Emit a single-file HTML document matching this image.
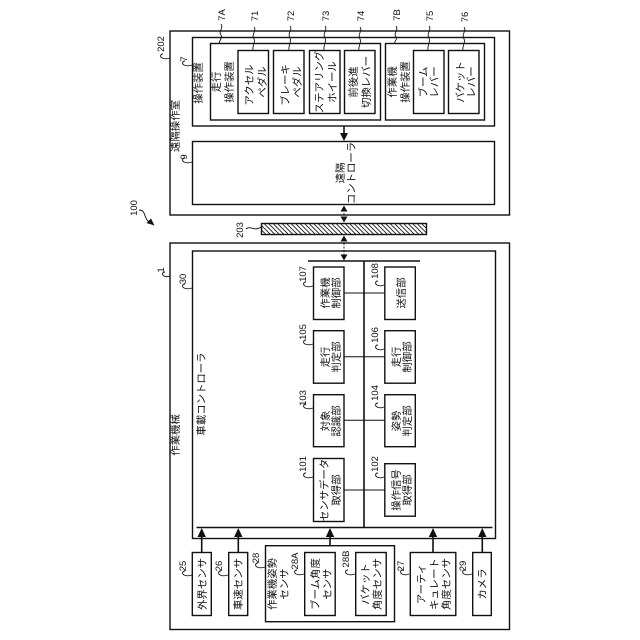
<!DOCTYPE html>
<html><head><meta charset="utf-8"><style>
html,body{margin:0;padding:0;background:#fff}
svg{display:block}
rect{fill:#fff;stroke:#111;stroke-width:1.4}
line,path{stroke:#111;fill:none}
text{font-family:"Liberation Sans","Noto Sans CJK JP",sans-serif;font-size:10.4px;fill:#111;text-anchor:middle}
text.n{font-size:9.5px}
.s{stroke-width:.9}
.b{stroke-width:1.6}
.h{fill:#111;stroke:none}
</style></head><body>
<svg width="640" height="640" viewBox="0 0 640 640" xmlns="http://www.w3.org/2000/svg">
<defs><pattern id="ht" width="4.5" height="4.5" patternUnits="userSpaceOnUse"><path d="M-1 -1L5.500 5.500M-1 3.500L1 5.500M3.500 -1L5.500 1" stroke="#222" stroke-width=".8"/></pattern></defs>

<rect x="170" y="31" width="339.500" height="184"/>
<rect x="192.500" y="37.500" width="302" height="88.500"/>
<rect x="210.500" y="43.500" width="170" height="76.500"/>
<rect x="238" y="50.500" width="30.500" height="63"/>
<rect x="273.500" y="50.500" width="30.500" height="63"/>
<rect x="309.500" y="50.500" width="30.500" height="63"/>
<rect x="344.500" y="50.500" width="30.500" height="63"/>
<rect x="385.500" y="43.500" width="99" height="76.500"/>
<rect x="413.500" y="50.500" width="30.500" height="63"/>
<rect x="448.500" y="50.500" width="30.500" height="63"/>
<rect x="192.500" y="141.500" width="302" height="63"/>

<rect x="261.500" y="223.500" width="165" height="11" style="fill:url(#ht)"/>

<rect x="170" y="243" width="339.500" height="386.500"/>
<rect x="192.500" y="251" width="303" height="287.500"/>

<line x1="196.500" y1="527.500" x2="492.500" y2="527.500" class="b"/>
<line x1="308" y1="261" x2="420" y2="261" class="b"/>
<line x1="364" y1="261" x2="364" y2="527.500" class="b"/>
<line x1="344" y1="293" x2="385" y2="293"/>
<line x1="344" y1="356.700" x2="385" y2="356.700"/>
<line x1="344" y1="420.300" x2="385" y2="420.300"/>
<line x1="344" y1="490" x2="385" y2="490"/>

<rect x="313.500" y="267" width="30.500" height="52.500"/>
<rect x="384.800" y="267" width="30.500" height="52.500"/>
<rect x="313.500" y="330.700" width="30.500" height="52.500"/>
<rect x="384.800" y="330.700" width="30.500" height="52.500"/>
<rect x="313.500" y="394.700" width="30.500" height="52"/>
<rect x="384.800" y="394.700" width="30.500" height="52"/>
<rect x="313.500" y="458.500" width="30.500" height="63"/>
<rect x="384.800" y="463.700" width="30.500" height="52.500"/>

<rect x="192.300" y="552.500" width="19" height="63"/>
<rect x="228.700" y="552.500" width="19" height="63"/>
<rect x="265.500" y="545.700" width="129" height="76"/>
<rect x="304.700" y="552.500" width="30.500" height="63"/>
<rect x="355.700" y="552.500" width="30.500" height="63"/>
<rect x="410.300" y="552.500" width="45.500" height="63"/>
<rect x="472.700" y="552.500" width="18.600" height="63"/>

<!-- arrows -->
<line x1="344" y1="126" x2="344" y2="134" class="b"/><path class="h" d="M344 141L340 133H348Z"/>
<line x1="344" y1="206" x2="344" y2="222" stroke-dasharray="2 1.500" class="s"/>
<path class="h" d="M344 205.500L340.500 211.500H347.500Z"/><path class="h" d="M344 222.500L340.500 216.500H347.500Z"/>
<line x1="344" y1="236" x2="344" y2="261" stroke-dasharray="2 1.500" class="s"/>
<path class="h" d="M344 235.500L340.500 241.500H347.500Z"/><path class="h" d="M344 260.500L340.500 254.500H347.500Z"/>

<line x1="201.700" y1="535" x2="201.700" y2="552.500" class="b"/><path class="h" d="M201.700 528L197.500 537H205.900Z"/>
<line x1="238.300" y1="535" x2="238.300" y2="552.500" class="b"/><path class="h" d="M238.300 528L234.100 537H242.500Z"/>
<line x1="330" y1="535" x2="330" y2="545.700" class="b"/><path class="h" d="M330 528L325.800 537H334.200Z"/>
<line x1="433" y1="535" x2="433" y2="552.500" class="b"/><path class="h" d="M433 528L428.800 537H437.200Z"/>
<line x1="482.300" y1="535" x2="482.300" y2="552.500" class="b"/><path class="h" d="M482.300 528L478.100 537H486.500Z"/>

<!-- 100 -->
<path class="s" d="M139 210c6 0 5 5 7 8c1 3 3 4 5 5"/><path class="h" d="M154.500 225.500L146.500 223L151 218.500Z"/>
<path class="s" d="M246 229c5-4 8 3 15-2"/>

<!-- squiggles -->
<path class="s" d="M221 24c3 4-3 7 0 11c2 3-2 5-2 9M254 27c3 4-3 7 0 12c2 3-2 7-1 11M290 26c3 4-3 7 0 12c2 3-2 8-1 12M325 26c3 4-3 7 0 12c2 3-2 8-1 12M360 27c3 4-3 7 0 12c2 3-2 7-1 11M396 26c3 4-3 7 0 11c2 3-2 3-1 6M429 26c3 4-3 7 0 12c2 3-2 8-1 12M464 27c3 4-3 7 0 12c2 3-2 7-1 11"/>
<path class="s" d="M163 54c-3 0-3 3-1 4c2 1 5 1 8 0M185 61c-3 0-3 3-1 4c2 1 5 1 8 0M185 158c-3 0-3 3-1 4c2 1 5 1 8 0M165 272c-3 0-3 3-1 4c2 1 3 1 6 0M185 284c-3 0-3 3-1 4c2 1 5 1 8 0"/>
<path class="s" d="M306 282c-3 0-3 3-1 4c2 1 5 1 8 0M378 281c-3 0-3 3-1 4c2 1 5 1 7 0M306 340c-3 0-3 3-1 4c2 1 5 1 8 0M378 345c-3 0-3 3-1 4c2 1 5 1 7 0M306 404c-3 0-3 3-1 4c2 1 5 1 8 0M378 403c-3 0-3 3-1 4c2 1 5 1 7 0M306 473c-3 0-3 3-1 4c2 1 5 1 8 0M378 473c-3 0-3 3-1 4c2 1 5 1 7 0"/>
<path class="s" d="M185 571c-3 0-3 3-1 4c2 1 5 1 8 0M221 571c-3 0-3 3-1 4c2 1 5 1 8 0M258 563c-3 0-3 3-1 4c2 1 5 1 8 0M297 570c-3 0-3 3-1 4c2 1 5 1 8 0M348 570c-3 0-3 3-1 4c2 1 5 1 8 0M403 570c-3 0-3 3-1 4c2 1 5 1 7 0M465 570c-3 0-3 3-1 4c2 1 5 1 8 0"/>

<!-- number labels -->
<text class="n" transform="translate(225,15) rotate(-90)">7A</text>
<text class="n" transform="translate(258,16) rotate(-90)">71</text>
<text class="n" transform="translate(294,16) rotate(-90)">72</text>
<text class="n" transform="translate(329,16) rotate(-90)">73</text>
<text class="n" transform="translate(364,16) rotate(-90)">74</text>
<text class="n" transform="translate(400,15) rotate(-90)">7B</text>
<text class="n" transform="translate(433,16) rotate(-90)">75</text>
<text class="n" transform="translate(468,17) rotate(-90)">76</text>
<text class="n" transform="translate(164,44) rotate(-90)">202</text>
<text class="n" transform="translate(187,59) rotate(-90)">7</text>
<text class="n" transform="translate(187,157) rotate(-90)">9</text>
<text class="n" transform="translate(243,230) rotate(-90)">203</text>
<text class="n" transform="translate(137,208) rotate(-90)">100</text>
<text class="n" transform="translate(164,270) rotate(-90)">1</text>
<text class="n" transform="translate(186,279) rotate(-90)">30</text>
<text class="n" transform="translate(306,274) rotate(-90)">107</text>
<text class="n" transform="translate(378,271) rotate(-90)">108</text>
<text class="n" transform="translate(306,332) rotate(-90)">105</text>
<text class="n" transform="translate(378,335) rotate(-90)">106</text>
<text class="n" transform="translate(306,398) rotate(-90)">103</text>
<text class="n" transform="translate(378,393) rotate(-90)">104</text>
<text class="n" transform="translate(306,464) rotate(-90)">101</text>
<text class="n" transform="translate(378,464) rotate(-90)">102</text>
<text class="n" transform="translate(186,566) rotate(-90)">25</text>
<text class="n" transform="translate(222,566) rotate(-90)">26</text>
<text class="n" transform="translate(259,558) rotate(-90)">28</text>
<text class="n" transform="translate(298,561) rotate(-90)">28A</text>
<text class="n" transform="translate(349,559) rotate(-90)">28B</text>
<text class="n" transform="translate(404,566) rotate(-90)">27</text>
<text class="n" transform="translate(466,566) rotate(-90)">29</text>

<!-- box text -->
<text transform="translate(179,126) rotate(-90)">遠隔操作室</text>
<text transform="translate(202,83) rotate(-90)">操作装置</text>
<text transform="translate(220,82) rotate(-90)">走行</text>
<text transform="translate(233,82) rotate(-90)">操作装置</text>
<text transform="translate(253,85) rotate(-90)">アクセル</text>
<text transform="translate(266,82) rotate(-90)">ペダル</text>
<text transform="translate(289,85) rotate(-90)">ブレーキ</text>
<text transform="translate(301,82) rotate(-90)">ペダル</text>
<text transform="translate(323,82) rotate(-90)">ステアリング</text>
<text transform="translate(336,82) rotate(-90)">ホイール</text>
<text transform="translate(357,82) rotate(-90)">前後進</text>
<text transform="translate(370,82) rotate(-90)">切換レバー</text>
<text transform="translate(396,82) rotate(-90)">作業機</text>
<text transform="translate(409,82) rotate(-90)">操作装置</text>
<text transform="translate(427,82) rotate(-90)">ブーム</text>
<text transform="translate(438,82) rotate(-90)">レバー</text>
<text transform="translate(464,82) rotate(-90)">バケット</text>
<text transform="translate(475,82) rotate(-90)">レバー</text>
<text transform="translate(344,173) rotate(-90)">遠隔</text>
<text transform="translate(355,173) rotate(-90)">コントローラ</text>

<text transform="translate(179,435) rotate(-90)">作業機械</text>
<text transform="translate(205,394) rotate(-90)">車載コントローラ</text>

<text transform="translate(329,293) rotate(-90)">作業機</text>
<text transform="translate(340,293) rotate(-90)">制御部</text>
<text transform="translate(405,293) rotate(-90)">送信部</text>
<text transform="translate(329,357) rotate(-90)">走行</text>
<text transform="translate(340,357) rotate(-90)">判定部</text>
<text transform="translate(400,357) rotate(-90)">走行</text>
<text transform="translate(411,357) rotate(-90)">制御部</text>
<text transform="translate(329,421) rotate(-90)">対象</text>
<text transform="translate(340,421) rotate(-90)">認識部</text>
<text transform="translate(400,421) rotate(-90)">姿勢</text>
<text transform="translate(411,421) rotate(-90)">判定部</text>
<text transform="translate(328,490) rotate(-90)">センサデータ</text>
<text transform="translate(340,490) rotate(-90)">取得部</text>
<text transform="translate(400,490) rotate(-90)">操作信号</text>
<text transform="translate(411,490) rotate(-90)">取得部</text>

<text transform="translate(206,584) rotate(-90)">外界センサ</text>
<text transform="translate(242,584) rotate(-90)">車速センサ</text>
<text transform="translate(276,584) rotate(-90)">作業機姿勢</text>
<text transform="translate(288,584) rotate(-90)">センサ</text>
<text transform="translate(319,584) rotate(-90)">ブーム角度</text>
<text transform="translate(331,584) rotate(-90)">センサ</text>
<text transform="translate(369,584) rotate(-90)">バケット</text>
<text transform="translate(381,584) rotate(-90)">角度センサ</text>
<text transform="translate(425,584) rotate(-90)">アーティ</text>
<text transform="translate(438,584) rotate(-90)">キュレート</text>
<text transform="translate(450,584) rotate(-90)">角度センサ</text>
<text transform="translate(486,584) rotate(-90)">カメラ</text>
</svg>
</body></html>
